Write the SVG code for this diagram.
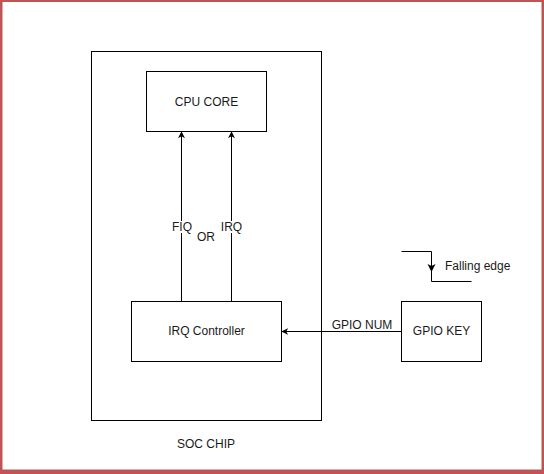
<svg xmlns="http://www.w3.org/2000/svg" width="544" height="474" viewBox="0 0 544 474">
<style>
.box{fill:#fff;stroke:#000;stroke-width:1}
.ln{fill:none;stroke:#000;stroke-width:1}
text{font-family:"Liberation Sans",Arial,sans-serif;font-size:12px;fill:#1a1a1a}
.c{text-anchor:middle}
</style>
<defs>
<marker id="ah" viewBox="0 0 10 10" refX="9" refY="5" markerWidth="7" markerHeight="7" markerUnits="userSpaceOnUse" orient="auto">
<path d="M0,0 L10,5 L0,10 L3,5 Z" fill="#000"/>
</marker>
</defs>
<rect x="0" y="0" width="544" height="474" fill="#bf5552"/>
<rect x="2.5" y="2" width="539" height="467.5" fill="#fff"/>
<g id="soc-chip">
<rect class="box" x="91.5" y="51.5" width="230" height="369"/>
<text class="c" x="206" y="448">SOC CHIP</text>
</g>
<g id="cpu-core">
<rect class="box" x="146.5" y="71.5" width="120" height="60"/>
<text class="c" x="206.5" y="106">CPU CORE</text>
</g>
<g id="irq-controller">
<rect class="box" x="131.5" y="301.5" width="150" height="60"/>
<text class="c" x="206.5" y="335">IRQ Controller</text>
</g>
<g id="gpio-key">
<rect class="box" x="401.5" y="301.5" width="80" height="60"/>
<text class="c" x="441.5" y="335">GPIO KEY</text>
</g>
<g id="falling-edge">
<path class="ln" d="M401.5,251.5 H431.5 V281.5 H471.5"/>
<path d="M427.5,264 L431.5,272 L435.5,264 L431.5,266 Z" fill="#000"/>
<text x="445" y="270">Falling edge</text>
</g>
<g id="connectors">
<line class="ln" x1="181.5" y1="301" x2="181.5" y2="132" marker-end="url(#ah)"/>
<line class="ln" x1="231.5" y1="301" x2="231.5" y2="132" marker-end="url(#ah)"/>
<line class="ln" x1="401" y1="331.5" x2="282" y2="331.5" marker-end="url(#ah)"/>
<rect x="172" y="221" width="20" height="12" fill="#fff"/>
<text class="c" x="182" y="231">FIQ</text>
<rect x="221" y="221" width="21" height="12" fill="#fff"/>
<text class="c" x="231.5" y="231">IRQ</text>
<text class="c" x="206" y="241">OR</text>
<text class="c" x="362" y="329">GPIO NUM</text>
</g>
</svg>
